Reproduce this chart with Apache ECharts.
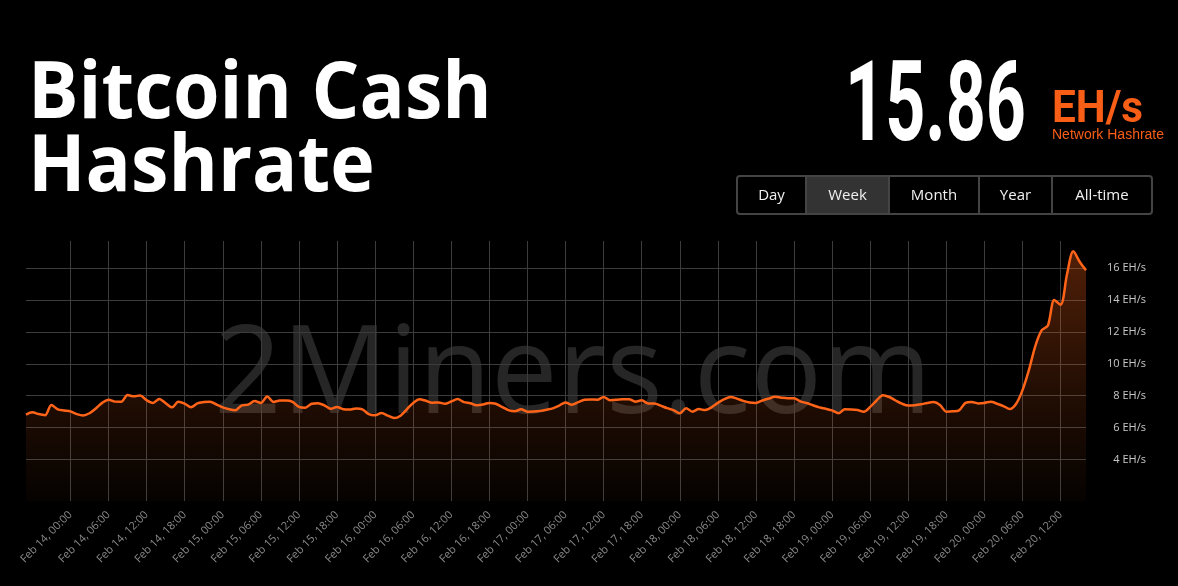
<!DOCTYPE html>
<html>
<head>
<meta charset="utf-8">
<script src="https://cdn.jsdelivr.net/npm/echarts@6/dist/echarts.min.js"></script>
<style>
html,body{margin:0;padding:0;background:#000;}
#chart{width:1178px;height:586px;}
</style>
</head>
<body>
<div id="chart"></div>
<script>
// Hourly network hashrate (EH/s), Feb 13 17:00 -> Feb 20 16:00
const hashrate = [
 6.82,6.96,6.85,6.78,7.42,7.15,7.07,7.02,6.85,6.76,6.90,7.20,7.55,7.75,7.63,7.62,8.04,7.96,8.02,7.72,
 7.55,7.80,7.53,7.27,7.62,7.50,7.27,7.52,7.60,7.63,7.45,7.27,7.15,7.09,7.40,7.44,7.67,7.55,7.95,7.61,
 7.70,7.70,7.62,7.30,7.25,7.50,7.53,7.40,7.18,7.30,7.15,7.13,7.20,7.15,6.85,6.78,6.92,6.75,6.60,6.75,
 7.15,7.55,7.78,7.68,7.56,7.58,7.49,7.64,7.79,7.60,7.53,7.40,7.45,7.55,7.50,7.30,7.10,7.03,7.15,7.00,
 7.01,7.05,7.12,7.21,7.38,7.58,7.44,7.60,7.75,7.77,7.75,7.92,7.72,7.74,7.78,7.78,7.63,7.71,7.52,7.52,
 7.38,7.22,7.10,6.90,7.22,7.00,7.16,7.10,7.27,7.55,7.78,7.92,7.82,7.68,7.58,7.55,7.70,7.82,7.93,7.88,
 7.84,7.84,7.65,7.54,7.40,7.27,7.18,7.08,6.90,7.15,7.14,7.10,7.00,7.30,7.70,8.03,7.92,7.70,7.50,7.38,
 7.40,7.46,7.55,7.60,7.42,7.00,7.02,7.08,7.55,7.61,7.52,7.55,7.63,7.50,7.35,7.17,7.50,8.35,9.60,11.10,
 12.10,12.40,14.00,13.70,15.60,17.05,16.40,15.86
];
const startDay = 13, startHour = 17;
const categories = [];
for (let i = 0; i < hashrate.length; i++) {
  const t = startHour + i;
  const d = startDay + Math.floor(t / 24);
  const h = t % 24;
  categories.push('Feb ' + d + ', ' + (h < 10 ? '0' : '') + h + ':00');
}
const xTickLabels = [
 'Feb 14, 00:00','Feb 14, 06:00','Feb 14, 12:00','Feb 14, 18:00',
 'Feb 15, 00:00','Feb 15, 06:00','Feb 15, 12:00','Feb 15, 18:00',
 'Feb 16, 00:00','Feb 16, 06:00','Feb 16, 12:00','Feb 16, 18:00',
 'Feb 17, 00:00','Feb 17, 06:00','Feb 17, 12:00','Feb 17, 18:00',
 'Feb 18, 00:00','Feb 18, 06:00','Feb 18, 12:00','Feb 18, 18:00',
 'Feb 19, 00:00','Feb 19, 06:00','Feb 19, 12:00','Feb 19, 18:00',
 'Feb 20, 00:00','Feb 20, 06:00','Feb 20, 12:00'
];
const yTicks = [4, 6, 8, 10, 12, 14, 16];
const currentValue = '15.86';
const unit = 'EH/s';
const buttons = ['Day', 'Week', 'Month', 'Year', 'All-time'];
const activeButton = 'Week';

const btnEdges = [737, 806, 889, 979, 1052, 1152];
const isTick = (i, v) => xTickLabels.indexOf(categories[i]) >= 0;

const graphics = [
  { type: 'text', x: 214, y: 378, z: -10, silent: true, scaleX: 0.972,
    style: { text: '2Miners.com', font: '122px "Open Sans"', fill: 'rgba(255,255,255,0.15)', verticalAlign: 'middle' } },
  { type: 'text', x: 28, y: 96, scaleX: 0.965, style: { text: 'Bitcoin Cash', font: 'bold 78px "Open Sans"', fill: '#fff', verticalAlign: 'middle' } },
  { type: 'text', x: 28, y: 169, scaleX: 0.965, style: { text: 'Hashrate', font: 'bold 78px "Open Sans"', fill: '#fff', verticalAlign: 'middle' } },
  { type: 'text', x: 845, y: 112, scaleX: 0.625, style: { text: currentValue, font: 'bold 112px Roboto', fill: '#fff', verticalAlign: 'middle' } },
  { type: 'text', x: 1052, y: 111, scaleX: 0.94, style: { text: unit, font: 'bold 45px Roboto', fill: '#f95e17', verticalAlign: 'middle' } },
  { type: 'text', x: 1052, y: 135, style: { text: 'Network Hashrate', font: '14px "Liberation Sans"', fill: '#f95e17', verticalAlign: 'middle' } },
  { type: 'rect', shape: { x: btnEdges[1], y: 177, width: btnEdges[2] - btnEdges[1], height: 36 }, style: { fill: '#333' } },
  { type: 'rect', shape: { x: btnEdges[0], y: 176, width: btnEdges[5] - btnEdges[0], height: 38, r: 3 },
    style: { fill: 'none', stroke: '#444', lineWidth: 2 } }
];
for (let i = 1; i < 5; i++) {
  graphics.push({ type: 'line', shape: { x1: btnEdges[i], y1: 177, x2: btnEdges[i], y2: 213 }, style: { stroke: '#444', lineWidth: 2 } });
}
buttons.forEach((b, i) => {
  graphics.push({ type: 'text', x: (btnEdges[i] + btnEdges[i + 1]) / 2, y: 196,
    style: { text: b, font: '15px "Open Sans"', fill: '#f0f0f0', align: 'center', verticalAlign: 'middle' } });
});

const chart = echarts.init(document.getElementById('chart'), null, { renderer: 'canvas' });
chart.setOption({
  backgroundColor: '#000',
  animation: false,
  graphic: graphics,
  grid: { left: 26, right: 92, top: 241, bottom: 85 },
  xAxis: {
    type: 'category',
    data: categories,
    boundaryGap: false,
    axisLine: { show: false },
    axisTick: { show: false },
    axisLabel: { interval: isTick, rotate: 45, color: '#8a8a8a', fontSize: 11, fontFamily: '"Open Sans"', margin: 12 },
    splitLine: { show: true, interval: isTick, lineStyle: { color: '#3c3c3c', width: 1 } }
  },
  yAxis: {
    type: 'value',
    position: 'right',
    min: 1.4,
    max: 17.7,
    axisLine: { show: false },
    axisTick: { show: false, customValues: yTicks },
    axisLabel: { customValues: yTicks, formatter: v => v + ' EH/s', color: '#c8c8c8', fontSize: 11, fontFamily: '"Open Sans"', align: 'right', margin: 60 },
    splitLine: { show: true, lineStyle: { color: '#3c3c3c', width: 1 } }
  },
  series: [{
    type: 'line',
    data: hashrate,
    smooth: 0.3,
    symbol: 'none',
    lineStyle: { color: '#ff6418', width: 2.5 },
    areaStyle: {
      color: new echarts.graphic.LinearGradient(0, 0, 0, 1, [
        { offset: 0, color: 'rgba(255,100,24,0.45)' },
        { offset: 0.55, color: 'rgba(255,100,24,0.2)' },
        { offset: 1, color: 'rgba(255,100,24,0.03)' }
      ])
    }
  }]
});
</script>
</body>
</html>
